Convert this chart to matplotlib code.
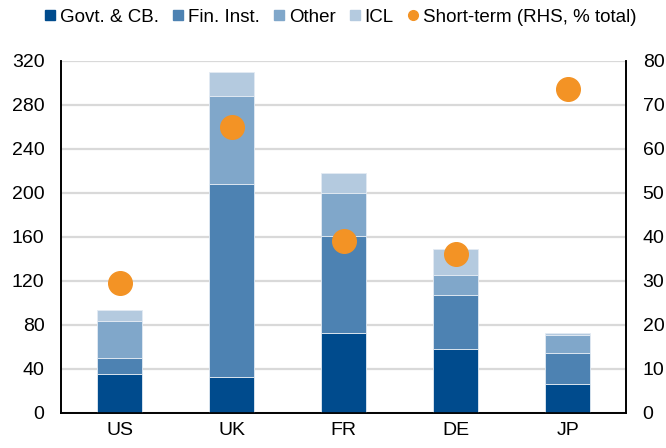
import matplotlib
matplotlib.use("Agg")
import matplotlib.pyplot as plt
from matplotlib.lines import Line2D
import numpy as np

plt.rcParams['font.family'] = ['Liberation Sans', 'DejaVu Sans']

countries = ['US', 'UK', 'FR', 'DE', 'JP']
govt = [35, 32, 72, 58, 26]
fin = [15, 176, 89, 49, 28]
other = [33, 80, 39, 18, 17]
icl = [10, 22, 18, 24, 1]
short_term = [29.5, 65, 39, 36, 73.7]

labels = ['Govt. & CB.', 'Fin. Inst.', 'Other', 'ICL', 'Short-term (RHS, % total)']
colors = ['#004B8D', '#4D82B2', '#80A7CA', '#B4CADF']
orange = '#F39325'

fig = plt.figure(figsize=(6.66, 4.48), dpi=100)
ax = fig.add_axes([0.092, 0.079, 0.848, 0.785])
ax2 = ax.twinx()

x = np.arange(len(countries))
bottom = np.zeros(len(countries))
for vals, c in zip([govt, fin, other, icl], colors):
    ax.bar(x, vals, 0.4, bottom=bottom, color=c, edgecolor='#E3EBF3',
           linewidth=0.6, zorder=3)
    bottom += np.array(vals)

ax2.plot(x, short_term, 'o', color=orange, markersize=17, zorder=5)

ax.set_ylim(0, 320)
ax.set_yticks(range(0, 321, 40))
ax2.set_ylim(0, 80)
ax2.set_yticks(range(0, 81, 10))
ax.set_xlim(-0.52, 4.52)
ax.set_xticks(x)
ax.set_xticklabels(countries)

ax.grid(axis='y', color='#D9D9D9', linewidth=1.6, zorder=0)
ax.set_axisbelow(True)
for a in (ax, ax2):
    a.spines['top'].set_visible(False)
    for s in ('left', 'right', 'bottom'):
        a.spines[s].set_linewidth(1.2)
    a.tick_params(length=0, labelsize=14)
ax.tick_params(axis='y', pad=12)
ax2.tick_params(axis='y', pad=12)
ax.tick_params(axis='x', pad=7)

handles = [Line2D([], [], marker='s', linestyle='none', color=c, markersize=7)
           for c in colors]
handles.append(Line2D([], [], marker='o', linestyle='none', color=orange,
                      markersize=7))
fig.legend(handles, labels, loc='center', bbox_to_anchor=(0.512, 0.962), ncol=5,
           frameon=False, fontsize=13.5, handlelength=0.5, handletextpad=0.25,
           columnspacing=0.8, borderaxespad=0)

fig.savefig('out.png', dpi=100)
